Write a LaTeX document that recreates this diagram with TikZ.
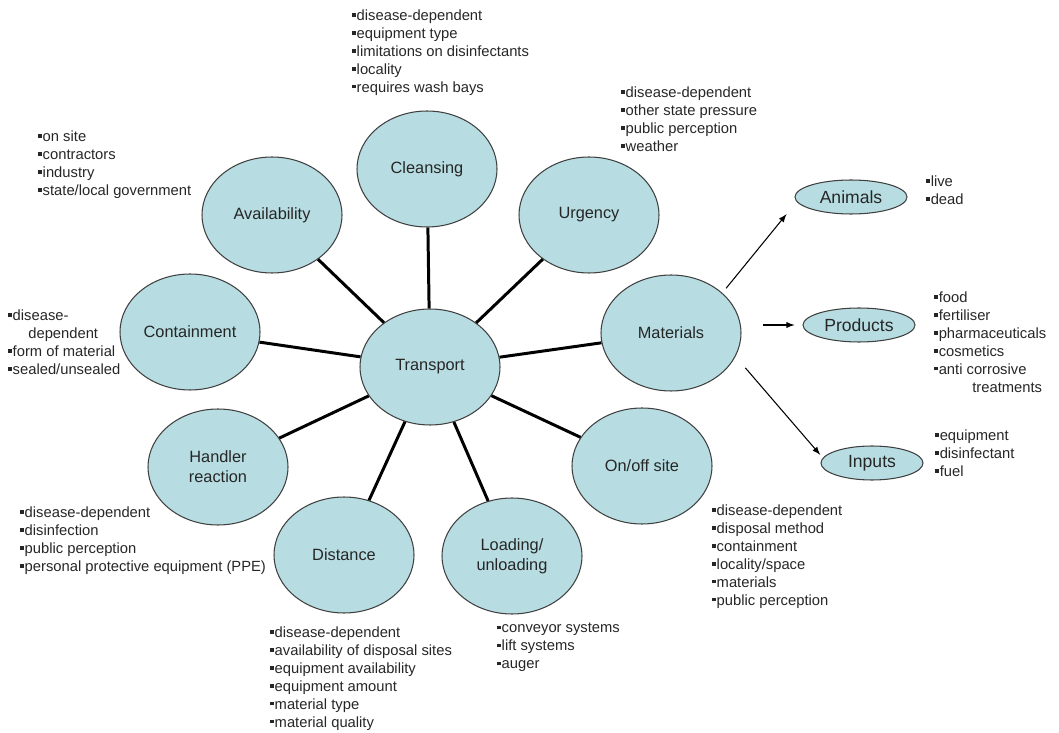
\documentclass[tikz,border=0pt]{standalone}
\usepackage{fontspec}
\setmainfont{Liberation Sans}
\usetikzlibrary{shapes.geometric}

\newcommand{\bul}{\rule[2pt]{1.8pt}{1.8pt}\hspace{0.7pt}}

\begin{document}
\begin{tikzpicture}[x=0.02cm,y=-0.02cm]
  % Colors
  \definecolor{bubblefill}{RGB}{183,221,226}
  \colorlet{bubbleline}{black!75}

  % Styles
  \tikzstyle{bubble}=[ellipse,draw=bubbleline,fill=bubblefill,line width=0.6pt,minimum width=2.8cm,minimum height=2.32cm,inner sep=0pt,align=center,text=black!85,font=\fontsize{9.3}{11.4}\selectfont]
  \tikzstyle{small bubble}=[ellipse,draw=bubbleline,fill=bubblefill,line width=0.6pt,minimum width=2.24cm,minimum height=0.68cm,inner sep=0pt,text=black!85,font=\fontsize{10}{12}\selectfont]
  \tikzstyle{spoke}=[line width=1.7pt]
  \tikzstyle{arrow line}=[->,>=latex,line width=0.6pt]
  \tikzstyle{information text}=[anchor=north west,align=left,inner sep=0pt,text=black!85,font=\fontsize{8.4}{10.24}\selectfont]

  % Margins
  \useasboundingbox (0,0) rectangle (1059,733);

  % The graphic
  \node[bubble] (tr) at (430,367) {Transport};
  \node[bubble] (cl) at (427,169) {Cleansing};
  \node[bubble] (av) at (272,215) {Availability};
  \node[bubble] (co) at (190,332) {Containment};
  \node[bubble] (ur) at (589,215) {Urgency};
  \node[bubble] (ma) at (671,333) {Materials};
  \node[bubble] (on) at (642,466) {On/off site};
  \node[bubble] (lo) at (512,556) {Loading/\\unloading};
  \node[bubble] (di) at (344,555) {Distance};
  \node[bubble] (ha) at (218,467) {Handler\\reaction};

  \node[small bubble] (an) at (851,197) {Animals};
  \node[small bubble] (pr) at (859,325) {Products};
  \node[small bubble,minimum width=2.04cm] (in) at (872,463) {Inputs};

  % Lines
  \draw[spoke] (tr) -- (cl);
  \draw[spoke] (tr) -- (av);
  \draw[spoke] (tr) -- (co);
  \draw[spoke] (tr) -- (ur);
  \draw[spoke] (tr) -- (ma);
  \draw[spoke] (tr) -- (on);
  \draw[spoke] (tr) -- (lo);
  \draw[spoke] (tr) -- (di);
  \draw[spoke] (tr) -- (ha);

  % Arrows
  \draw[arrow line,shorten <=0.12cm,shorten >=0.32cm] (ma.38) -- (an.185);
  \draw[arrow line,shorten <=0.42cm,shorten >=0.16cm] (ma.east |- pr.west) -- (pr.west);
  \draw[arrow line,shorten <=0.3cm,shorten >=0.08cm] (ma.-20) -- (in.174);

  % Notes
  \node[information text] (cllist) at (352,9) {\bul disease-dependent\\\bul equipment type\\\bul limitations on disinfectants\\\bul locality\\\bul requires wash bays};
  \node[information text] (avlist) at (38,130) {\bul on site\\\bul contractors\\\bul industry\\\bul state/local government};
  \node[information text] (urlist) at (621,86) {\bul disease-dependent\\\bul other state pressure\\\bul public perception\\\bul weather};
  \node[information text] (anlist) at (926,175) {\bul live\\\bul dead};
  \node[information text] (prlist) at (934,291) {\bul food\\\bul fertiliser\\\bul pharmaceuticals\\\bul cosmetics\\\bul anti corrosive\\\hspace*{0.76cm}treatments};
  \node[information text] (colist) at (8,309) {\bul disease-\\\hspace*{0.4cm}dependent\\\bul form of material\\\bul sealed/unsealed};
  \node[information text] (halist) at (20,506) {\bul disease-dependent\\\bul disinfection\\\bul public perception\\\bul personal protective equipment (PPE)};
  \node[information text] (dilist) at (270,626) {\bul disease-dependent\\\bul availability of disposal sites\\\bul equipment availability\\\bul equipment amount\\\bul material type\\\bul material quality};
  \node[information text] (lolist) at (497,623) {\bul conveyor systems\\\bul lift systems\\\bul auger};
  \node[information text] (onlist) at (712,504) {\bul disease-dependent\\\bul disposal method\\\bul containment\\\bul locality/space\\\bul materials\\\bul public perception};
  \node[information text] (inlist) at (935,429) {\bul equipment\\\bul disinfectant\\\bul fuel};

\end{tikzpicture}
\end{document}
